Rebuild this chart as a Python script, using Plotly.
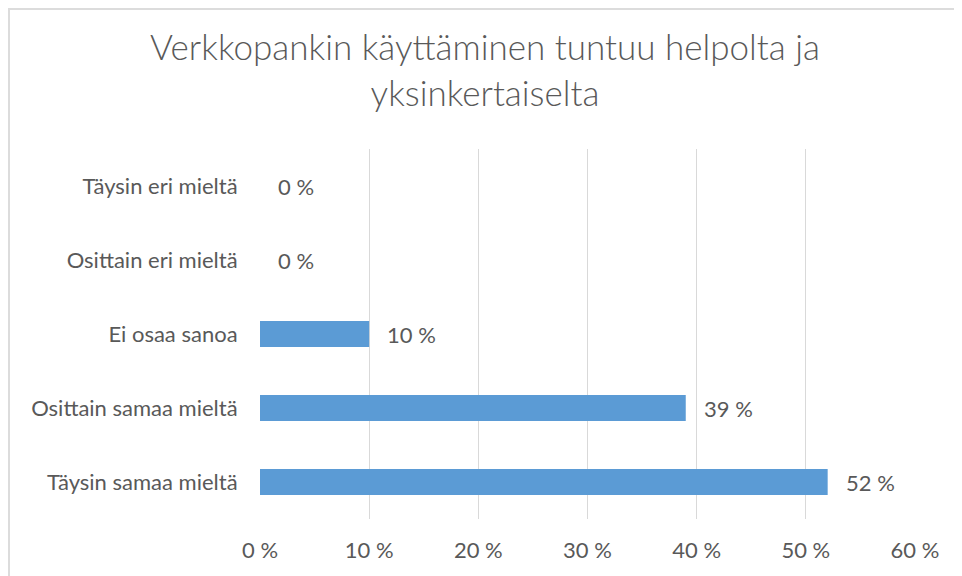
import plotly.graph_objects as go

categories = ["Täysin samaa mieltä", "Osittain samaa mieltä", "Ei osaa sanoa",
              "Osittain eri mieltä", "Täysin eri mieltä"]
values = [52, 39, 10, 0, 0]
title_text = "Verkkopankin käyttäminen tuntuu helpolta ja<br>yksinkertaiselta"

BAR = "#5B9BD5"
TXT = "#595959"
FONT = "Lato"

W, H = 954, 568  # page body has 8px margin
L, R, T, B = 252, 47, 141, 57

fig = go.Figure()
fig.add_trace(go.Bar(
    x=values, y=categories, orientation="h",
    marker=dict(color=BAR, line=dict(width=0)),
    width=0.35, hoverinfo="skip"))

for c, v in zip(categories, values):
    fig.add_annotation(x=v, y=c, text=f"{v} %", showarrow=False,
                       xanchor="left", xshift=16,
                       font=dict(family=FONT, size=22, color=TXT))

pw = W - L - R
ph = H - T - B
fig.update_layout(
    width=W, height=H,
    margin=dict(l=L, r=R, t=T, b=B),
    paper_bgcolor="white", plot_bgcolor="white",
    showlegend=False,
    title=dict(text=title_text, x=0.5, xanchor="center",
               y=1 - 52 / H, yanchor="top",
               font=dict(family=FONT, size=35, color=TXT, weight=300)),
    xaxis=dict(range=[0, 60], dtick=10, ticksuffix=" %", showgrid=True,
               gridcolor="#D9D9D9", gridwidth=1, zeroline=False, showline=False,
               ticks="outside", ticklen=12, tickcolor="white",
               tickfont=dict(family=FONT, size=22, color=TXT), fixedrange=True),
    yaxis=dict(categoryorder="array", categoryarray=categories, showgrid=False,
               zeroline=False, showline=False, ticks="outside", ticklen=17,
               tickcolor="white", tickfont=dict(family=FONT, size=22, color=TXT),
               fixedrange=True),
    shapes=[dict(type="rect", xref="paper", yref="paper", layer="below",
                 x0=-(L - 1) / pw, x1=1.2, y0=-0.5, y1=1 + (T - 1) / ph,
                 line=dict(color="#DCDCDC", width=2), fillcolor="rgba(0,0,0,0)")],
)

fig.write_html("out.html")
